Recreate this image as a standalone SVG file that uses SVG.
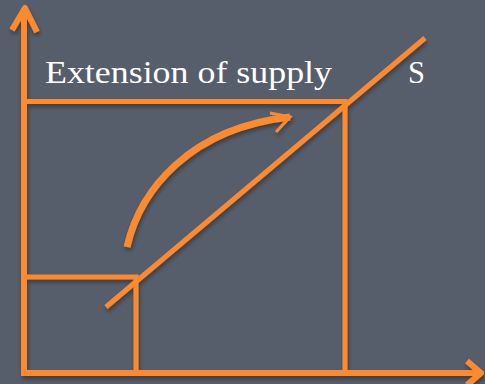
<svg xmlns="http://www.w3.org/2000/svg" width="485" height="384" viewBox="0 0 485 384">
<defs>
<filter id="sh" x="-10%" y="-10%" width="130%" height="130%">
<feDropShadow dx="1" dy="3" stdDeviation="2" flood-color="#000" flood-opacity="0.35"/>
</filter>
<style>
.ln{stroke:#ff8a2e;fill:none;stroke-linecap:butt}
.lbl{font-family:"Liberation Serif","Times New Roman",serif;fill:#ffffff;font-size:31px}
</style>
</defs>
<rect width="485" height="384" fill="#565e6b"/>
<g id="connectors" filter="url(#sh)">
<path class="ln" stroke-width="6" d="M24,376 V8"/>
<path class="ln" stroke-width="6" stroke-linecap="round" stroke-linejoin="round" d="M12,30 L25,8 L37,32"/>
<path class="ln" stroke-width="6" d="M22,373 H481"/>
<path class="ln" stroke-width="6" stroke-linecap="round" stroke-linejoin="round" d="M467,361 L481,373 L467,385"/>
<path class="ln" stroke-width="5" d="M24,101.5 H345 V373"/>
<path class="ln" stroke-width="5" d="M24,277 H136 V373"/>
<path class="ln" stroke-width="5" d="M106,307 L425,38"/>
<path class="ln" stroke-width="7" d="M127,247 C140,190 190,128 290,117"/>
<path class="ln" stroke-width="4" d="M234,131 Q260,122 290,117"/>
<path class="ln" stroke-width="3" d="M270,113 L290,117 L276,132"/>
</g>
<g id="label-extension">
<text class="lbl" x="45" y="83" textLength="287" lengthAdjust="spacingAndGlyphs">Extension of supply</text>
</g>
<g id="label-s">
<text class="lbl" x="408" y="83" textLength="17" lengthAdjust="spacingAndGlyphs">S</text>
</g>
</svg>
